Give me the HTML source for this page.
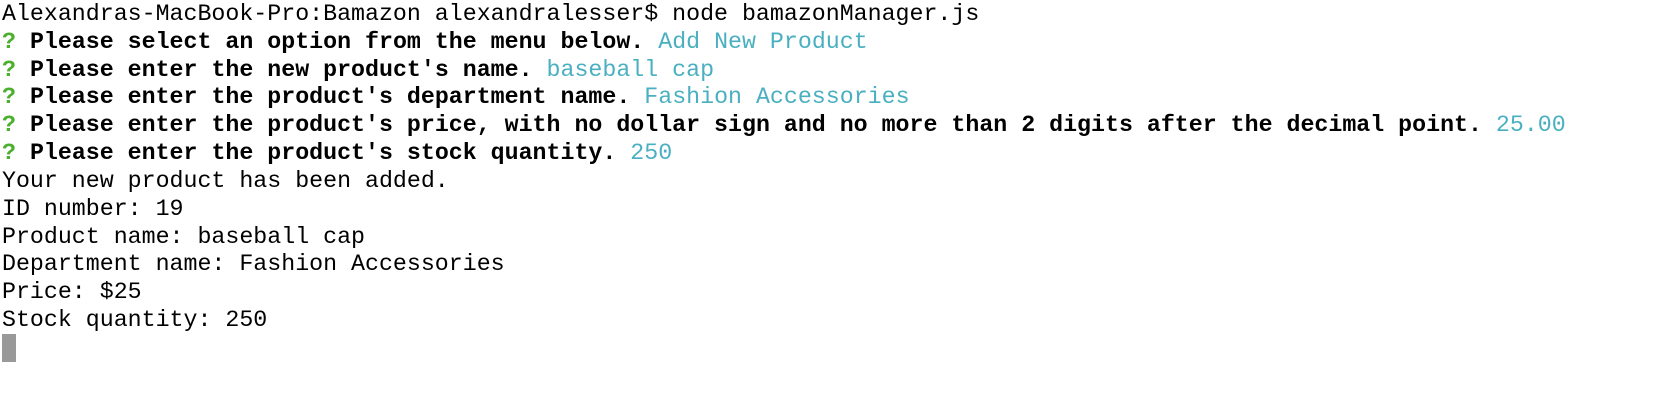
<!DOCTYPE html>
<html><head><meta charset="utf-8"><style>
html,body{margin:0;padding:0;background:#fff;width:1670px;height:406px;overflow:hidden}
pre{margin:0;padding:1px 0 0 2px;font-family:"Liberation Mono",monospace;font-size:23.27px;line-height:27.83px;color:#000}
b{font-weight:bold}
.g{color:#4caf2e;font-weight:bold}
.c{color:#4ab0c1}
.cur{display:inline-block;width:14px;height:28px;background:#999;vertical-align:top;margin-top:-1px}
</style></head><body><pre>Alexandras-MacBook-Pro:Bamazon alexandralesser$ node bamazonManager.js
<span class="g">?</span> <b>Please select an option from the menu below.</b> <span class="c">Add New Product</span>
<span class="g">?</span> <b>Please enter the new product's name.</b> <span class="c">baseball cap</span>
<span class="g">?</span> <b>Please enter the product's department name.</b> <span class="c">Fashion Accessories</span>
<span class="g">?</span> <b>Please enter the product's price, with no dollar sign and no more than 2 digits after the decimal point.</b> <span class="c">25.00</span>
<span class="g">?</span> <b>Please enter the product's stock quantity.</b> <span class="c">250</span>
Your new product has been added.
ID number: 19
Product name: baseball cap
Department name: Fashion Accessories
Price: $25
Stock quantity: 250
<span class="cur"></span></pre></body></html>
